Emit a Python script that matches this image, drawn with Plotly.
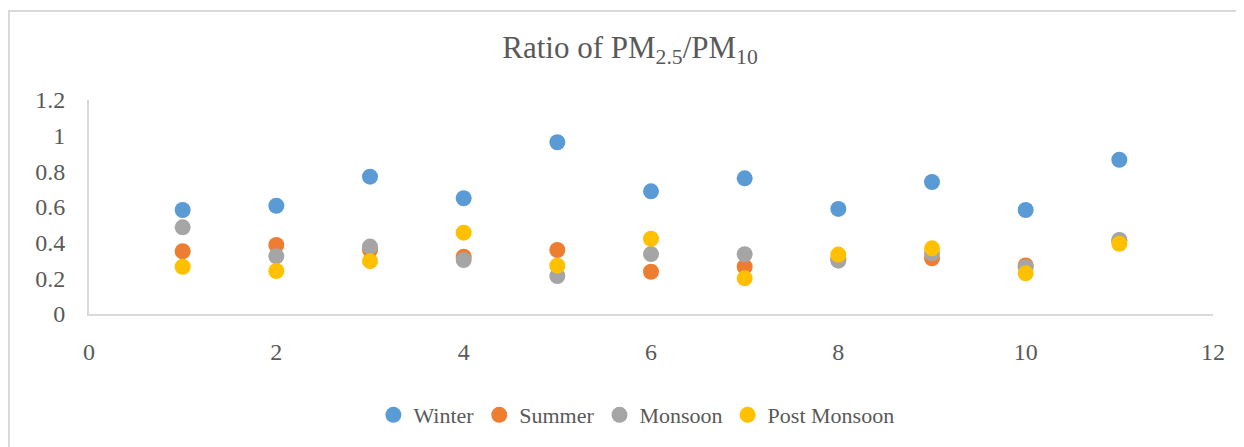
import plotly.graph_objects as go

x_vals = [1, 2, 3, 4, 5, 6, 7, 8, 9, 10, 11]
winter = [0.583, 0.607, 0.770, 0.649, 0.963, 0.688, 0.761, 0.589, 0.740, 0.583, 0.865]
summer = [0.352, 0.387, 0.359, 0.321, 0.359, 0.237, 0.265, 0.310, 0.312, 0.272, 0.412]
monsoon = [0.486, 0.324, 0.378, 0.303, 0.213, 0.336, 0.335, 0.299, 0.340, 0.262, 0.415]
post_monsoon = [0.265, 0.241, 0.296, 0.456, 0.271, 0.422, 0.200, 0.333, 0.368, 0.228, 0.394]

series_names = ["Winter", "Summer", "Monsoon", "Post Monsoon"]
series_vals = [winter, summer, monsoon, post_monsoon]
colors = ["#5B9BD5", "#ED7D31", "#A5A5A5", "#FFC000"]

FONT = "Liberation Serif, Times New Roman, serif"
TXT = "#595959"

fig = go.Figure()
for name, vals, c in zip(series_names, series_vals, colors):
    fig.add_trace(go.Scatter(
        x=x_vals, y=vals, mode="markers", name=name,
        marker=dict(size=16, color=c, line=dict(width=0)),
    ))

L, T, PW, PH = 81, 92, 1124, 214
fig.update_layout(
    width=1244, height=447,
    margin=dict(l=L, r=1244 - L - PW, t=T, b=447 - T - PH),
    paper_bgcolor="white", plot_bgcolor="white",
    font=dict(family=FONT, color=TXT, size=22),
    title=dict(
        text="Ratio of PM<sub>2.5</sub>/PM<sub>10</sub>",
        x=0.5, xanchor="center", y=0.913, yanchor="middle",
        font=dict(family=FONT, size=31, color=TXT),
    ),
    showlegend=True,
    legend=dict(
        orientation="h", x=0.487, xanchor="center", y=-0.472, yanchor="middle",
        font=dict(family=FONT, size=22, color=TXT),
        itemsizing="trace", itemwidth=30, tracegroupgap=0,
    ),
    xaxis=dict(
        range=[0, 12], tick0=0, dtick=2, showgrid=False, zeroline=False,
        showline=True, linecolor="#D9D9D9", linewidth=2,
        ticks="", ticklabelstandoff=15,
        tickfont=dict(family=FONT, size=24, color=TXT),
    ),
    yaxis=dict(
        range=[0, 1.2], tick0=0, dtick=0.2, showgrid=False, zeroline=False,
        showline=True, linecolor="#D9D9D9", linewidth=2,
        ticks="", ticklabelstandoff=17,
        tickfont=dict(family=FONT, size=24, color=TXT),
    ),
    shapes=[
        dict(type="rect", xref="paper", yref="paper",
             x0=(1 - L) / PW, x1=(1300 - L) / PW,
             y0=(T + PH - 500) / PH, y1=(T + PH - 3) / PH,
             line=dict(color="#D9D9D9", width=2), fillcolor="rgba(0,0,0,0)",
             layer="below"),
    ],
)

fig.write_html("out.html")
